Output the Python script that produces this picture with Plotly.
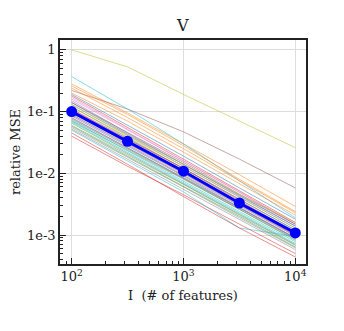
import plotly.graph_objects as go

# number of features
n_features = [100, 316, 1000, 3162, 10000]

# relative MSE of the individual runs
run_mse = [
    [0.085, 0.028, 0.0090, 0.0028, 0.00090],
    [0.28, 0.095, 0.030, 0.0095, 0.0029],
    [0.12, 0.038, 0.012, 0.0037, 0.0012],
    [0.040, 0.013, 0.0045, 0.0015, 0.00050],
    [0.15, 0.045, 0.014, 0.0043, 0.0014],
    [0.22, 0.11, 0.047, 0.017, 0.0058],
    [0.11, 0.034, 0.011, 0.0034, 0.0011],
    [0.070, 0.024, 0.0080, 0.0026, 0.00085],
    [1.0, 0.53, 0.19, 0.070, 0.026],
    [0.37, 0.11, 0.030, 0.0075, 0.0019],
    [0.095, 0.031, 0.010, 0.0031, 0.0010],
    [0.20, 0.070, 0.022, 0.0068, 0.0021],
    [0.065, 0.021, 0.0068, 0.0022, 0.00070],
    [0.18, 0.055, 0.017, 0.0052, 0.0016],
    [0.13, 0.041, 0.013, 0.0040, 0.0013],
    [0.080, 0.026, 0.0085, 0.0027, 0.00088],
    [0.16, 0.050, 0.016, 0.0050, 0.0015],
    [0.055, 0.018, 0.0060, 0.0019, 0.00062],
    [0.10, 0.032, 0.010, 0.0032, 0.00100],
    [0.050, 0.016, 0.0050, 0.0013, 0.00095],
    [0.14, 0.043, 0.014, 0.0044, 0.0014],
    [0.24, 0.080, 0.025, 0.0075, 0.0023],
    [0.075, 0.025, 0.0082, 0.0026, 0.00082],
    [0.045, 0.014, 0.0042, 0.0013, 0.00044],
    [0.105, 0.036, 0.012, 0.0038, 0.0012],
    [0.090, 0.029, 0.0095, 0.0030, 0.00096],
    [0.17, 0.052, 0.016, 0.0049, 0.0015],
    [0.060, 0.020, 0.0066, 0.0021, 0.00068],
    [0.12, 0.040, 0.013, 0.0041, 0.0013],
    [0.068, 0.022, 0.0072, 0.0023, 0.00073],
    [0.19, 0.060, 0.019, 0.0058, 0.0018],
    [0.26, 0.090, 0.028, 0.0080, 0.0024],
    [0.058, 0.019, 0.0062, 0.0020, 0.00064],
    [0.11, 0.036, 0.012, 0.0036, 0.0011],
    [0.078, 0.026, 0.0086, 0.0028, 0.00090],
    [0.14, 0.046, 0.015, 0.0046, 0.0015],
    [0.088, 0.030, 0.0098, 0.0031, 0.00098],
    [0.052, 0.017, 0.0056, 0.0018, 0.00058],
    [0.13, 0.042, 0.014, 0.0045, 0.0016],
    [0.072, 0.023, 0.0075, 0.0024, 0.00078],
]

# thick blue summary line
mean_mse = [0.10, 0.033, 0.0108, 0.0033, 0.00108]

tab10 = ["#1f77b4", "#ff7f0e", "#2ca02c", "#d62728", "#9467bd",
         "#8c564b", "#e377c2", "#7f7f7f", "#bcbd22", "#17becf"]

fig = go.Figure()
for i, ys in enumerate(run_mse):
    fig.add_trace(go.Scatter(
        x=n_features, y=ys, mode="lines",
        line=dict(color=tab10[i % 10], width=1), opacity=0.5,
        hoverinfo="skip", showlegend=False))

fig.add_trace(go.Scatter(
    x=n_features, y=mean_mse, mode="lines+markers",
    line=dict(color="#0000ff", width=3),
    marker=dict(color="#0000ff", size=11), showlegend=False))

font = "DejaVu Serif"
axis_common = dict(
    type="log", showline=True, linecolor="#222222", linewidth=1.5, mirror=True,
    ticks="inside", ticklen=6, tickcolor="#222222", tickwidth=1,
    showgrid=True, gridcolor="#dddddd", gridwidth=1, zeroline=False,
    minor=dict(ticks="inside", ticklen=3, tickcolor="#222222", dtick="D1", showgrid=False),
    tickfont=dict(family=font, size=13, color="#222222"),
    automargin=False,
)

fig.update_xaxes(
    **axis_common, range=[1.896, 4.096],
    tickvals=[100, 1000, 10000],
    ticktext=["10<sup>2</sup>", "10<sup>3</sup>", "10<sup>4</sup>"],
    title=dict(text="I  (# of features)", font=dict(family=font, size=13, color="#222222"), standoff=8),
)
fig.update_yaxes(
    **axis_common, range=[-3.47, 0.16],
    tickvals=[1, 0.1, 0.01, 0.001],
    ticktext=["1", "1e-1", "1e-2", "1e-3"],
    title=dict(text="relative MSE", font=dict(family=font, size=13, color="#222222"), standoff=6),
)

fig.update_layout(
    width=344, height=331,
    margin=dict(l=52, r=46, t=32, b=75),
    paper_bgcolor="white", plot_bgcolor="white",
    title=dict(text="V", x=0.508, xanchor="center", y=0.946, yanchor="middle",
               font=dict(family=font, size=16, color="#222222")),
)

fig.write_html("out.html")
